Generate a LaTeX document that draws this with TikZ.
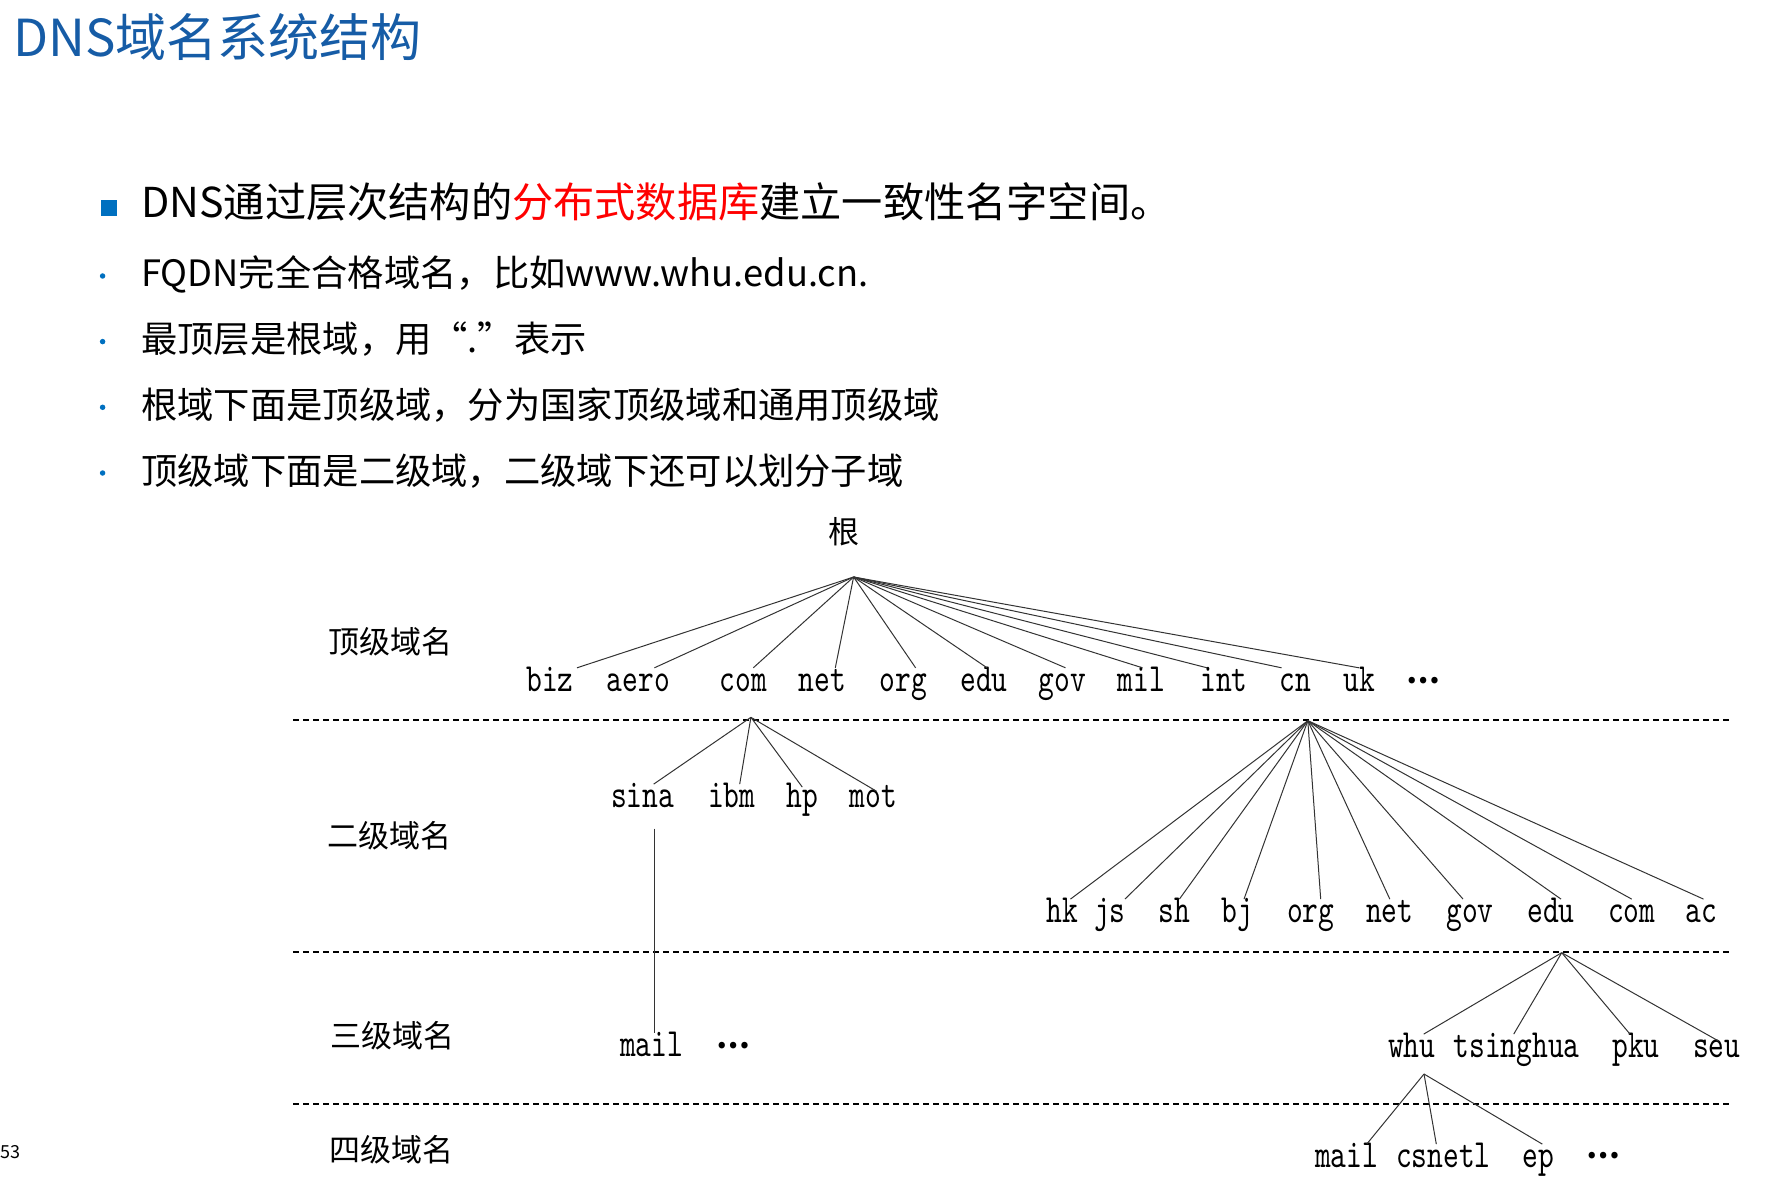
\documentclass[tikz,border=0pt]{standalone}
\usepackage{fontspec}
\newfontfamily\cjk{Noto Sans CJK SC}
\newfontfamily\lblfont{lmmono10-regular.otf}[FakeStretch=0.75]
\definecolor{titelblau}{RGB}{22,92,166}
\definecolor{punktblau}{RGB}{0,112,192}

\begin{document}
\begin{tikzpicture}[x=1pt,y=-1pt,
  dom/.style={font=\lblfont\fontsize{40}{40}\selectfont,inner sep=0pt,text height=23.5pt,text depth=4.5pt},
  pkte/.style={font=\cjk\bfseries\fontsize{30}{30}\selectfont,inner sep=0pt},
  ebene/.style={font=\cjk\fontsize{31}{31}\selectfont,inner sep=0pt},
  zeile/.style={anchor=base west,inner sep=0pt,font=\cjk\fontsize{36.3}{36.3}\selectfont},
  punkt/.style={circle,fill=punktblau,inner sep=0pt,minimum size=5.5pt},
  trenn/.style={line width=1.2pt,dash pattern=on 6pt off 4pt},
  every edge/.style={draw,line width=1pt,black!80}]

\useasboundingbox (0,0) rectangle (1766,1190);

% Titel und Stichpunkte
  \node[anchor=base west,inner sep=0pt,text=titelblau,font=\cjk\fontsize{51}{51}\selectfont] (titel) at (13,57) {DNS域名系统结构};
  \node[fill=punktblau,inner sep=0pt,minimum size=16pt] (q1) at (108.5,208) {};
  \node[zeile,font=\cjk\fontsize{41.2}{41.2}\selectfont] (z1) at (141,218) {DNS通过层次结构的\textcolor{red}{分布式数据库}建立一致性名字空间。};
  \node[punkt] (p2) at (102.6,276) {};
  \node[zeile] (z2) at (141,287) {FQDN完全合格域名，比如www.whu.edu.cn.};
  \node[punkt] (p3) at (102.6,341.6) {};
  \node[zeile] (z3) at (141,352.8) {最顶层是根域，用“.”表示};
  \node[punkt] (p4) at (102.6,407.3) {};
  \node[zeile] (z4) at (141,418.5) {根域下面是顶级域，分为国家顶级域和通用顶级域};
  \node[punkt] (p5) at (102.6,473) {};
  \node[zeile] (z5) at (141,484.2) {顶级域下面是二级域，二级域下还可以划分子域};
  \node[anchor=base west,inner sep=0pt,font=\cjk\fontsize{18}{18}\selectfont] (seite) at (0.5,1158) {53}; % Seitenzahl unten links

% Ebenen und Trennlinien
  \node[ebene] (e1) at (390.6,641.7) {顶级域名};
  \node[ebene] (e2) at (389.4,835.4) {二级域名};
  \node[ebene] (e3) at (392.8,1035.8) {三级域名};
  \node[ebene] (e4) at (391.7,1150) {四级域名};
  \draw[trenn] (293,720) -- (1730,720);
  \draw[trenn] (293,952) -- (1730,952);
  \draw[trenn] (293,1104) -- (1730,1104);

% Wurzel und Top-Level-Domains
  \node[ebene] (wurzel) at (843.8,531.7) {根};
  \coordinate (wp) at (853.6,577); % Spitze unter der Wurzel
  \node[dom] (biz) at (550,682) {biz};
  \node[dom] (aero) at (638.4,682) {aero};
  \node[dom] (com) at (743.3,682) {com};
  \node[dom] (net) at (822.3,682) {net};
  \node[dom] (org) at (903.6,682) {org};
  \node[dom] (edu) at (984,682) {edu};
  \node[dom] (gov) at (1062.5,682) {gov};
  \node[dom] (mil) at (1141.5,682) {mil};
  \node[dom] (int) at (1224,682) {int};
  \node[dom] (cn) at (1295.5,682) {cn};
  \node[dom] (uk) at (1359,682) {uk};
  \node[pkte] (tdots) at (1423.7,680.7) {…};

% zweite Ebene unter com und cn
  \coordinate (compt) at (750.9,717.3);
  \node[dom] (sina) at (642.7,798.3) {sina};
  \node[dom] (ibm) at (731.7,798.3) {ibm};
  \node[dom] (hp) at (802.3,798.3) {hp};
  \node[dom] (mot) at (873.3,798.3) {mot};
  \coordinate (cnpt) at (1307.8,720.7);
  \node[dom] (hk) at (1062.5,913.3) {hk};
  \node[dom] (js) at (1109.9,913.3) {js};
  \node[dom] (sh) at (1174.4,913.3) {sh};
  \node[dom] (bj) at (1237,913.3) {bj};
  \node[dom] (cnorg) at (1310.7,913.3) {org};
  \node[dom] (cnnet) at (1389.8,913.3) {net};
  \node[dom] (cngov) at (1470,913.3) {gov};
  \node[dom] (cnedu) at (1551,913.3) {edu};
  \node[dom] (cncom) at (1631.7,913.3) {com};
  \node[dom] (ac) at (1701.5,913.3) {ac};

% dritte und vierte Ebene
  \node[dom] (sinamail) at (651.7,1046.7) {mail};
  \node[pkte] (mdots) at (733.3,1046) {…};
  \coordinate (edupt) at (1561.7,952.7);
  \node[dom] (whu) at (1411.7,1048.3) {whu};
  \node[dom] (tsinghua) at (1516.7,1048.3) {tsinghua};
  \node[dom] (pku) at (1636,1048.3) {pku};
  \node[dom] (seu) at (1716.7,1048.3) {seu};
  \coordinate (whupt) at (1424,1074);
  \node[dom] (whumail) at (1346.7,1158.3) {mail};
  \node[dom] (csnetl) at (1443.3,1158.3) {csnetl};
  \node[dom] (ep) at (1538.3,1158.3) {ep};
  \node[pkte] (wdots) at (1603.3,1156) {…};

% Verbindungen, xshift wo der Strich nicht genau mittig endet
  \path
    (wp) edge ([xshift=27pt]biz.north)
    (wp) edge ([xshift=16pt]aero.north)
    (wp) edge ([xshift=10pt]com.north)
    (wp) edge ([xshift=13pt]net.north)
    (wp) edge ([xshift=12pt]org.north)
    (wp) edge ([xshift=3pt]edu.north)
    (wp) edge ([xshift=3pt]gov.north)
    (wp) edge ([xshift=1pt]mil.north)
    (wp) edge ([xshift=-17pt]int.north)
    (wp) edge ([xshift=-14pt]cn.north)
    (wp) edge (uk.north)
    (compt) edge ([xshift=11pt]sina.north)
    (compt) edge ([xshift=8pt]ibm.north)
    (compt) edge ([yshift=-3pt]hp.north)
    (compt) edge ([xshift=3pt,yshift=-7pt]mot.north)
    (cnpt) edge ([xshift=8pt]hk.north)
    (cnpt) edge ([xshift=15pt]js.north)
    (cnpt) edge ([xshift=5pt]sh.north)
    (cnpt) edge ([xshift=7pt]bj.north)
    (cnpt) edge ([xshift=10pt]cnorg.north)
    (cnpt) edge (cnnet.north)
    (cnpt) edge ([xshift=-7pt]cngov.north)
    (cnpt) edge ([xshift=10pt]cnedu.north)
    (cnpt) edge (cncom.north)
    (cnpt) edge ([xshift=2pt]ac.north)
    ([xshift=11.6pt,yshift=-16pt]sina.south) edge ([xshift=2.6pt]sinamail.north)
    (edupt) edge ([xshift=12pt]whu.north)
    (edupt) edge ([xshift=-3pt]tsinghua.north)
    (edupt) edge ([xshift=-6pt]pku.north)
    (edupt) edge ([xshift=2pt,yshift=-7pt]seu.north)
    (whupt) edge ([xshift=20pt]whumail.north)
    (whupt) edge ([xshift=-7pt]csnetl.north)
    (whupt) edge ([xshift=4pt]ep.north)
;
\end{tikzpicture}
\end{document}
